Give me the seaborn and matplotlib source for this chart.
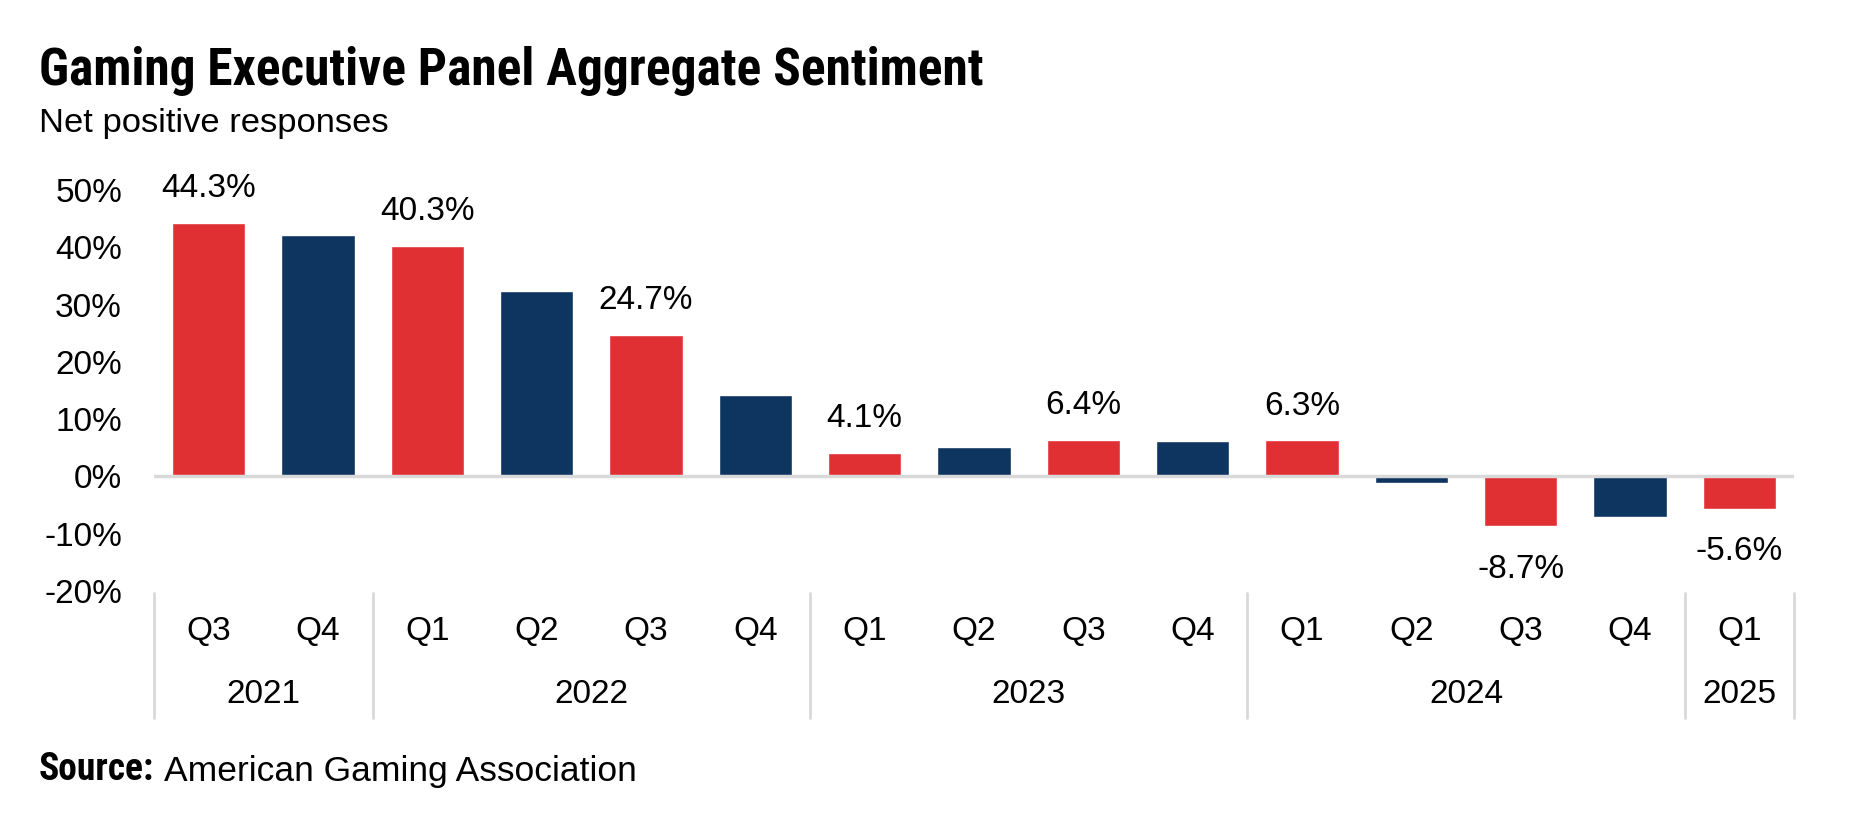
import os
import numpy as np
import pandas as pd
import matplotlib
matplotlib.use("Agg")
import matplotlib.pyplot as plt
import matplotlib.transforms as mtransforms
from matplotlib import font_manager as fm
from matplotlib.colors import same_color
import seaborn as sns

# ---------------- data ----------------
years = ["2021", "2021", "2022", "2022", "2022", "2022", "2023", "2023",
         "2023", "2023", "2024", "2024", "2024", "2024", "2025"]
quarters = ["Q3", "Q4", "Q1", "Q2", "Q3", "Q4", "Q1", "Q2",
            "Q3", "Q4", "Q1", "Q2", "Q3", "Q4", "Q1"]
values = [44.3, 42.2, 40.3, 32.4, 24.7, 14.2, 4.1, 5.1,
          6.4, 6.2, 6.3, -1.2, -8.7, -7.1, -5.6]
yticks = [-20, -10, 0, 10, 20, 30, 40, 50]

title = "Gaming Executive Panel Aggregate Sentiment"
subtitle = "Net positive responses"
source_bold = "Source:"
source_text = "American Gaming Association"

RED = "#E13034"
NAVY = "#0D3560"
GRID = "#D9D9D9"

# ---------------- style ----------------
sns.set_theme(style="white")
plt.rcParams["font.family"] = ["Liberation Sans", "DejaVu Sans"]


def find_condensed_bold():
    prefs = ["liberationsansnarrow-bold", "robotocondensed-bold",
             "roboto_condensed-bold", "notosans-condensedbold",
             "opensans-condbold", "opensans_condensed-bold",
             "opensans-condensedbold", "dejavusanscondensed-bold"]
    files = {}
    for f in fm.fontManager.ttflist:
        base = os.path.splitext(os.path.basename(f.fname))[0].lower()
        files[base] = f.fname
    for p in prefs:
        if p in files:
            return files[p]
    for f in fm.fontManager.ttflist:
        base = os.path.basename(f.fname).lower()
        if (("condensed" in base or "narrow" in base or "cond" in base)
                and "bold" in base and "italic" not in base
                and "semi" not in base and "extra" not in base):
            return f.fname
    return None


cb = find_condensed_bold()
if cb:
    TITLE_FP = fm.FontProperties(fname=cb, size=37)
    SRC_FP = fm.FontProperties(fname=cb, size=27)
else:
    TITLE_FP = fm.FontProperties(family=["Liberation Sans"], weight="bold", size=31)
    SRC_FP = fm.FontProperties(family=["Liberation Sans"], weight="bold", size=23)

df = pd.DataFrame({
    "period": [f"{y} {q}" for y, q in zip(years, quarters)],
    "value": values,
    "group": ["hl" if i % 2 == 0 else "base" for i in range(len(values))],
})

fig = plt.figure(figsize=(18.51, 8.25), dpi=100)
ax = fig.add_axes([0.0832, 0.2836, 0.886, 0.486])

sns.barplot(data=df, x="period", y="value", hue="group",
            palette={"hl": RED, "base": NAVY}, dodge=False, width=0.67,
            saturation=1, legend=False, ax=ax, zorder=2)

ax.set_xlim(-0.5, len(values) - 0.5)
ax.set_ylim(yticks[0], yticks[-1])
ax.set_yticks(yticks)
ax.set_yticklabels([f"{t}%" for t in yticks])
ax.set_xticks(range(len(values)))
ax.set_xticklabels(quarters)
ax.tick_params(axis="both", length=0, labelsize=24, labelcolor="black")
ax.tick_params(axis="y", pad=23)
ax.tick_params(axis="x", pad=18)
ax.set_xlabel("")
ax.set_ylabel("")
for s in ax.spines.values():
    s.set_visible(False)
ax.grid(False)

ax.axhline(0, color=GRID, lw=2.5, zorder=3)

# data labels on highlighted (red) bars
for cont in ax.containers:
    if same_color(cont.patches[0].get_facecolor(), RED):
        vals = list(cont.datavalues)
        ax.bar_label(cont, labels=[f"{v:.1f}%" if v >= 0 else "" for v in vals],
                     padding=13.5, fontsize=24, color="black")
        ax.bar_label(cont, labels=[f"{v:.1f}%" if v < 0 else "" for v in vals],
                     padding=20, fontsize=24, color="black")

# year groups & separators
trans = mtransforms.blended_transform_factory(ax.transData, ax.transAxes)
bounds = [0]
for i in range(1, len(years)):
    if years[i] != years[i - 1]:
        bounds.append(i)
bounds.append(len(years))
for a, b in zip(bounds[:-1], bounds[1:]):
    ax.text((a + b - 1) / 2, -0.257, years[a], transform=trans,
            ha="center", va="center", fontsize=24, color="black")
for b in bounds:
    ax.plot([b - 0.5, b - 0.5], [-0.005, -0.317], transform=trans,
            color=GRID, lw=2, clip_on=False)

# titles
fig.text(0.021, 0.8964, title, fontproperties=TITLE_FP,
         va="baseline", ha="left", color="black")
fig.text(0.021, 0.840, subtitle, fontsize=24.8, va="baseline",
         ha="left", color="black")

t1 = fig.text(0.021, 0.055, source_bold, fontproperties=SRC_FP,
              va="baseline", ha="left", color="black")
ax.annotate(source_text, xy=(1, 0), xycoords=t1, xytext=(7, 0),
            textcoords="offset points", va="bottom", ha="left",
            fontsize=25.5, color="black", annotation_clip=False)

fig.savefig("out.png", dpi=100)
